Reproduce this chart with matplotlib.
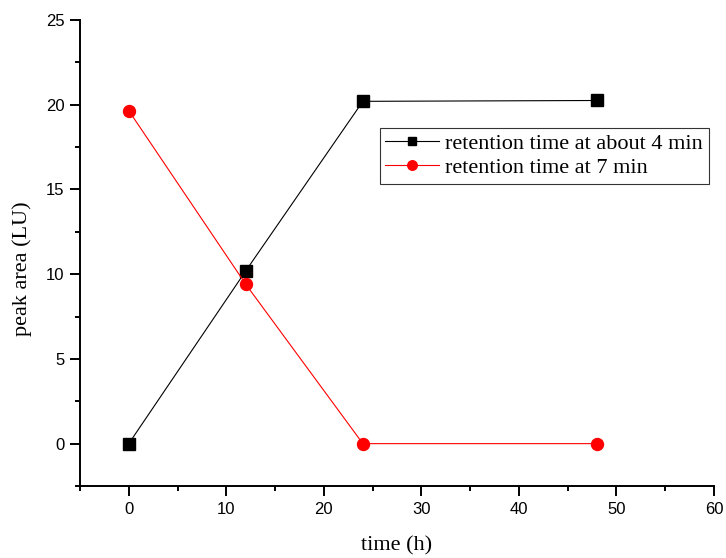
import matplotlib
matplotlib.use("Agg")
import matplotlib.pyplot as plt
from matplotlib.ticker import MultipleLocator

time_h = [0, 12, 24, 48]
peak_4min = [0.0, 10.2, 20.2, 20.25]
peak_7min = [19.65, 9.4, 0.0, 0.0]
label_4min = "retention time at about 4 min"
label_7min = "retention time at 7 min"

fig = plt.figure(figsize=(7.26, 5.58), dpi=100)
ax = fig.add_axes([80 / 726, 1 - 486 / 558, 634 / 726, 466 / 558])

ax.plot(time_h, peak_4min, color="black", lw=0.8, marker="s", ms=8,
        label=label_4min, clip_on=False)
ax.plot(time_h, peak_7min, color="red", lw=0.8, marker="o", ms=8.6,
        label=label_7min, clip_on=False)

ax.set_xlim(-5, 60)
ax.set_ylim(-2.5, 25)
ax.xaxis.set_major_locator(MultipleLocator(10))
ax.xaxis.set_minor_locator(MultipleLocator(5))
ax.yaxis.set_major_locator(MultipleLocator(5))
ax.yaxis.set_minor_locator(MultipleLocator(2.5))

for side in ("top", "right"):
    ax.spines[side].set_visible(False)
for side in ("left", "bottom"):
    ax.spines[side].set_linewidth(1.4)

ax.tick_params(which="major", direction="out", length=7.2, width=1.4,
               labelsize=12, pad=4)
ax.tick_params(which="minor", direction="out", length=3.6, width=1.4)
for lab in ax.get_xticklabels() + ax.get_yticklabels():
    lab.set_fontfamily("Liberation Sans")

ax.set_xlabel("time (h)", fontfamily="Liberation Serif", fontsize=16, labelpad=14)
ax.set_ylabel("peak area (LU)", fontfamily="Liberation Serif", fontsize=16)
ax.yaxis.set_label_coords(-0.076, 0.466)

leg = ax.legend(loc="upper left", bbox_to_anchor=(0.473, 0.768),
                prop={"family": "Liberation Serif", "size": 16},
                frameon=True, fancybox=False, handlelength=2.4,
                markerscale=0.8, borderpad=0.25, labelspacing=0.15,
                handletextpad=0.3, borderaxespad=0)
leg.get_frame().set_edgecolor("black")
leg.get_frame().set_linewidth(0.8)

fig.savefig("out.png", dpi=100)
